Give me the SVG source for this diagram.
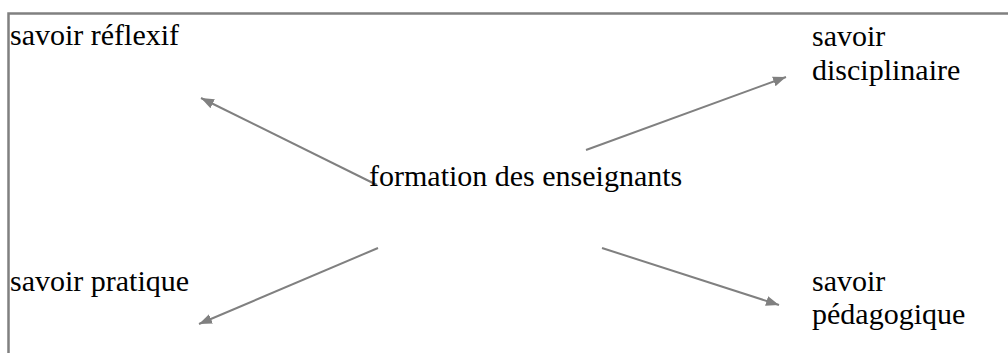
<svg xmlns="http://www.w3.org/2000/svg" width="1008" height="353" viewBox="0 0 1008 353">
<style>
.t{font-family:"Liberation Serif","Times New Roman",serif;font-size:30px;fill:#000;font-variant-ligatures:none}
.c{stroke:#808080;stroke-width:2;fill:none}
.b{stroke:#808080;stroke-width:2.5;fill:none}
</style>
<defs>
<marker id="ah" markerUnits="userSpaceOnUse" markerWidth="14" markerHeight="12" refX="13" refY="6" orient="auto">
<path d="M0,1 L13,6 L0,11 Z" fill="#808080"/>
</marker>
</defs>
<rect width="1008" height="353" fill="#fff"/>
<path class="b" d="M8.5,353 V13.5 H1008"/>
<g id="connectors">
<line class="c" x1="377" y1="185" x2="201" y2="98" marker-end="url(#ah)"/>
<line class="c" x1="586" y1="150" x2="786" y2="77" marker-end="url(#ah)"/>
<line class="c" x1="378" y1="248" x2="199" y2="324" marker-end="url(#ah)"/>
<line class="c" x1="602" y1="248" x2="779" y2="305" marker-end="url(#ah)"/>
</g>
<g id="center"><text class="t" x="369" y="186">formation des enseignants</text></g>
<g id="reflexif"><text class="t" x="10" y="45">savoir réflexif</text></g>
<g id="disciplinaire"><text class="t" x="812" y="46">savoir</text><text class="t" x="812" y="80">disciplinaire</text></g>
<g id="pratique"><text class="t" x="10" y="291">savoir pratique</text></g>
<g id="pedagogique"><text class="t" x="812" y="291">savoir</text><text class="t" x="812" y="324">pédagogique</text></g>
</svg>
